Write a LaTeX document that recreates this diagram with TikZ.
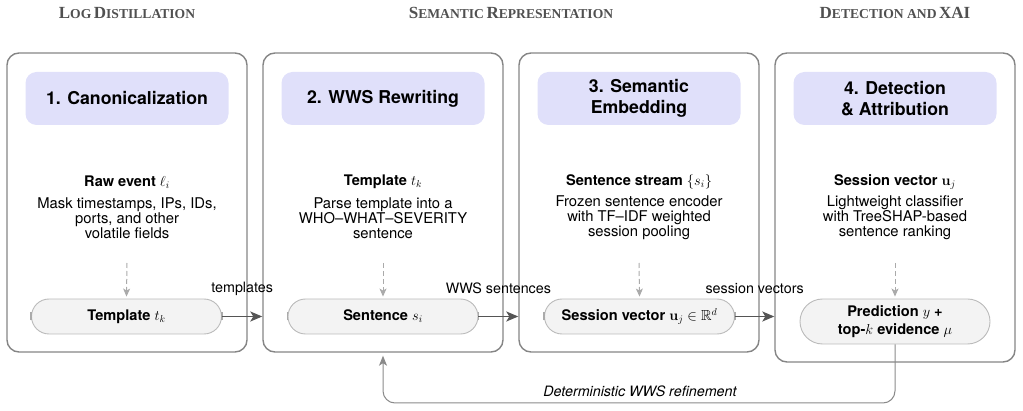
\documentclass[tikz,border=0pt]{standalone}
\usepackage{amsmath,amssymb}
\usepackage[no-math]{fontspec}
\setmainfont{TeX Gyre Heros}
\newfontfamily\hdrfont{Liberation Serif}
\usetikzlibrary{arrows.meta,shapes.misc}
\definecolor{boxgray}{HTML}{858585}
\definecolor{lav}{HTML}{E0E0FA}
\definecolor{pillfill}{HTML}{F3F3F3}
\definecolor{pillline}{HTML}{BBBBBB}
\definecolor{arrdark}{HTML}{555555}
\definecolor{dashgray}{HTML}{AAAAAA}
\definecolor{fbgray}{HTML}{8A8A8A}
\definecolor{hdrgray}{HTML}{505050}
\newcommand{\hsc}[2]{{\fontsize{17}{17}\selectfont #1}{\fontsize{13.6}{13.6}\selectfont #2}}
\tikzset{
  stagebox/.style={draw=boxgray, line width=1.4pt, rounded corners=12pt, minimum width=240, inner sep=0pt},
  titlepill/.style={fill=lav, rounded corners=11pt, minimum width=203, minimum height=53, align=center,
    font=\fontsize{17.7}{21}\selectfont\bfseries},
  inlabel/.style={font=\fontsize{14.6}{15}\selectfont\bfseries},
  desc/.style={align=center, font=\fontsize{14.8}{15}\selectfont},
  flowpill/.style={rounded rectangle, draw=pillline, line width=0.9pt, fill=pillfill, minimum width=194,
    minimum height=35, align=center, inner sep=2pt, font=\fontsize{14.6}{18}\selectfont\bfseries},
  endtick/.style={draw=dashgray, line width=1.6pt},
  mainarrow/.style={draw=arrdark, line width=1.6pt, -{Stealth[length=12pt,width=10pt,inset=3pt]}},
  dasharrow/.style={draw=dashgray, line width=1pt, dash pattern=on 5pt off 3pt, -{Stealth[length=8pt,width=7pt,inset=2pt]}},
  fbarrow/.style={draw=fbgray, line width=1pt, rounded corners=12pt, -{Stealth[length=10pt,width=8pt,inset=2.5pt]}},
  arrlabel/.style={font=\fontsize{14.3}{15}\selectfont, inner sep=0pt},
  hdr/.style={text=hdrgray, font=\hdrfont\bfseries, inner sep=0pt}
}
\begin{document}
\begin{tikzpicture}[x=1pt,y=-1pt]
\useasboundingbox (0,0) rectangle (1023,411);

% section headers
\node[hdr] (h1) at (127,13) {\hsc{L}{OG} \hsc{D}{ISTILLATION}};
\node[hdr] (h2) at (511,13) {\hsc{S}{EMANTIC} \hsc{R}{EPRESENTATION}};
\node[hdr] (h3) at (895,13) {\hsc{D}{ETECTION AND} \hsc{XAI}{}};

% stage boxes
\node[stagebox, minimum height=299] (b1) at (127,202.5) {};
\node[stagebox, minimum height=299] (b2) at (383,202.5) {};
\node[stagebox, minimum height=299] (b3) at (639,202.5) {};
\node[stagebox, minimum height=309] (b4) at (895,207.5) {};

% titles
\node[titlepill] (t1) at (127,98.5) {1. Canonicalization};
\node[titlepill] (t2) at (383,98.5) {2. WWS Rewriting};
\node[titlepill] (t3) at (639,98.5) {3. Semantic\\Embedding};
\node[titlepill] (t4) at (895,98.5) {4. Detection\\\& Attribution};

% inputs
\node[inlabel] (i1) at (127,182) {Raw event $\ell_i$};
\node[inlabel] (i2) at (383,182) {Template $t_k$};
\node[inlabel] (i3) at (639,182) {Sentence stream $\{s_i\}$};
\node[inlabel] (i4) at (895,182) {Session vector $\mathbf{u}_j$};

% descriptions
\node[desc] (d1) at (127,218) {Mask timestamps, IPs, IDs,\\ports, and other\\volatile fields};
\node[desc] (d2) at (383,218) {Parse template into a\\WHO--WHAT--SEVERITY\\sentence};
\node[desc] (d3) at (639,218) {Frozen sentence encoder\\with TF--IDF weighted\\session pooling};
\node[desc] (d4) at (895,218) {Lightweight classifier\\with TreeSHAP-based\\sentence ranking};

% output pills
\node[flowpill] (p1) at (126.5,316.5) {Template $t_k$};
\node[flowpill] (p2) at (383,316.5) {Sentence $s_i$};
\node[flowpill] (p3) at (639.5,316.5) {Session vector $\mathbf{u}_j \in \mathbb{R}^d$};
\node[flowpill, minimum height=45] (p4) at (895,321.5) {Prediction $y$ +\\top-$k$ evidence $\mu$};

% end ticks
\foreach \p in {p1,p2,p3}{
  \draw[endtick] ([yshift=-4pt]\p.west) -- ([yshift=4pt]\p.west);
  \draw[endtick] ([yshift=-4pt]\p.east) -- ([yshift=4pt]\p.east);
}

% dashed arrows
\foreach \i in {1,2,3,4}{
  \coordinate (ds\i) at (b\i.center |- 0,263);
  \draw[dasharrow] (ds\i) -- ([yshift=2pt]p\i.north);
}

% main arrows
\draw[mainarrow] (p1.east) -- (p1.east -| b2.west) node[arrlabel, midway, above=28pt, anchor=center] {templates};
\draw[mainarrow] (p2.east) -- (p2.east -| b3.west) node[arrlabel, midway, above=28pt, anchor=center] {WWS sentences};
\draw[mainarrow] (p3.east) -- (p3.east -| b4.west) node[arrlabel, midway, above=28pt, anchor=center] {session vectors};

% feedback
\coordinate (fbc) at (p4.south |- 0,403);
\draw[fbarrow] (p4.south) -- (fbc) -| ([yshift=-3pt]b2.south);
\node[arrlabel, font=\fontsize{14.3}{15}\selectfont\itshape] (fbl) at (640,391) {Deterministic WWS refinement};
\end{tikzpicture}
\end{document}
